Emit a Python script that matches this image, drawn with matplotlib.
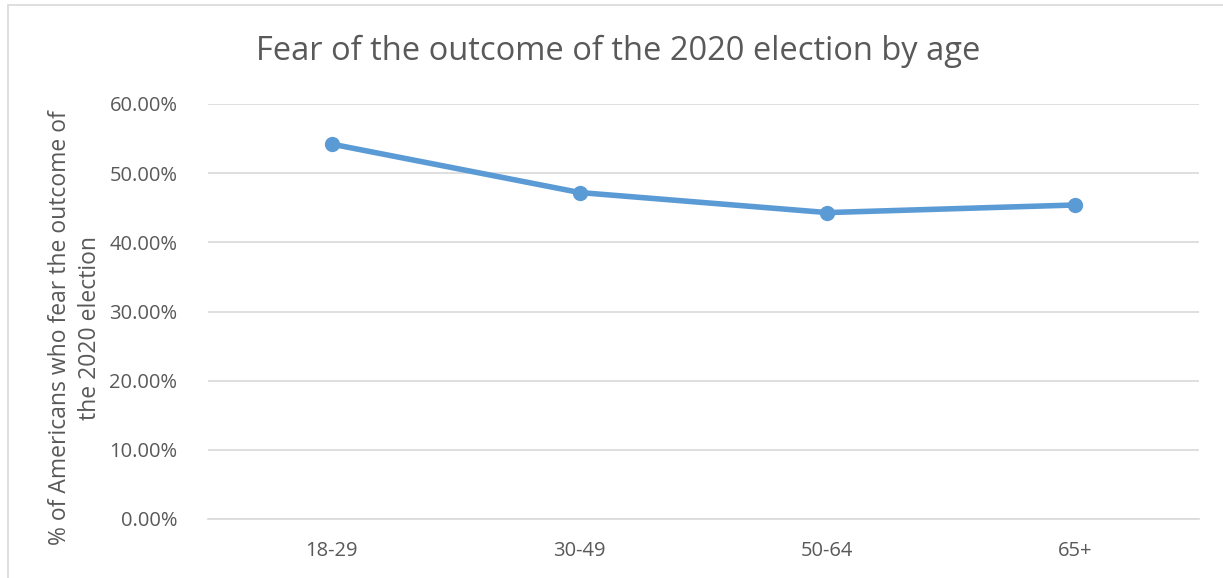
import matplotlib
matplotlib.use("Agg")
import matplotlib.pyplot as plt
from matplotlib.patches import Rectangle
from matplotlib.ticker import FuncFormatter

# Data
age_groups = ["18-29", "30-49", "50-64", "65+"]
fear_share = [0.542, 0.472, 0.443, 0.454]
y_ticks = [0.0, 0.1, 0.2, 0.3, 0.4, 0.5, 0.6]

line_color = "#5B9BD5"
text_color = "#595959"
grid_color = "#D9D9D9"

plt.rcParams["font.family"] = ["Open Sans", "DejaVu Sans"]

fig = plt.figure(figsize=(12.23, 5.78), dpi=100)
W, H = 1223, 578

# chart area border (cut off on the right and bottom in the reference)
fig.patches.append(Rectangle((8 / W, -0.1), 1.2, (578 - 5) / H + 0.1,
                             transform=fig.transFigure, fill=False,
                             edgecolor="#D9D9D9", linewidth=1.2))

ax = fig.add_axes([208 / W, 59 / H, (1199 - 208) / W, (519 - 104) / H])

x = list(range(len(age_groups)))
ax.plot(x, fear_share, color=line_color, linewidth=4.0, marker="o",
        markersize=10, solid_capstyle="round", zorder=3)

ax.set_xlim(-0.5, len(age_groups) - 0.5)
ax.set_ylim(0, 0.6)
ax.set_yticks(y_ticks)
ax.yaxis.set_major_formatter(FuncFormatter(lambda v, p: f"{v * 100:.2f}%"))
ax.set_xticks(x)
ax.set_xticklabels(age_groups)

ax.grid(axis="y", color=grid_color, linewidth=1.2)
ax.set_axisbelow(True)
for side in ["top", "right", "left"]:
    ax.spines[side].set_visible(False)
ax.spines["bottom"].set_color(grid_color)
ax.spines["bottom"].set_linewidth(1.2)
ax.tick_params(axis="both", length=0, labelsize=14.5, colors=text_color)
ax.tick_params(axis="y", pad=22)
ax.tick_params(axis="x", pad=16)

# y axis title, placed by hand like the Excel chart
fig.text(75 / W, 1 - 328 / H, "% of Americans who fear the outcome of\nthe 2020 election",
         rotation=90, ha="center", va="center", multialignment="center",
         fontsize=16.5, color=text_color, linespacing=1.3)

fig.text(618 / W, 1 - 51 / H, "Fear of the outcome of the 2020 election by age",
         ha="center", va="center", fontsize=23.5, color=text_color)

fig.savefig("out.png", dpi=100, facecolor="white")
